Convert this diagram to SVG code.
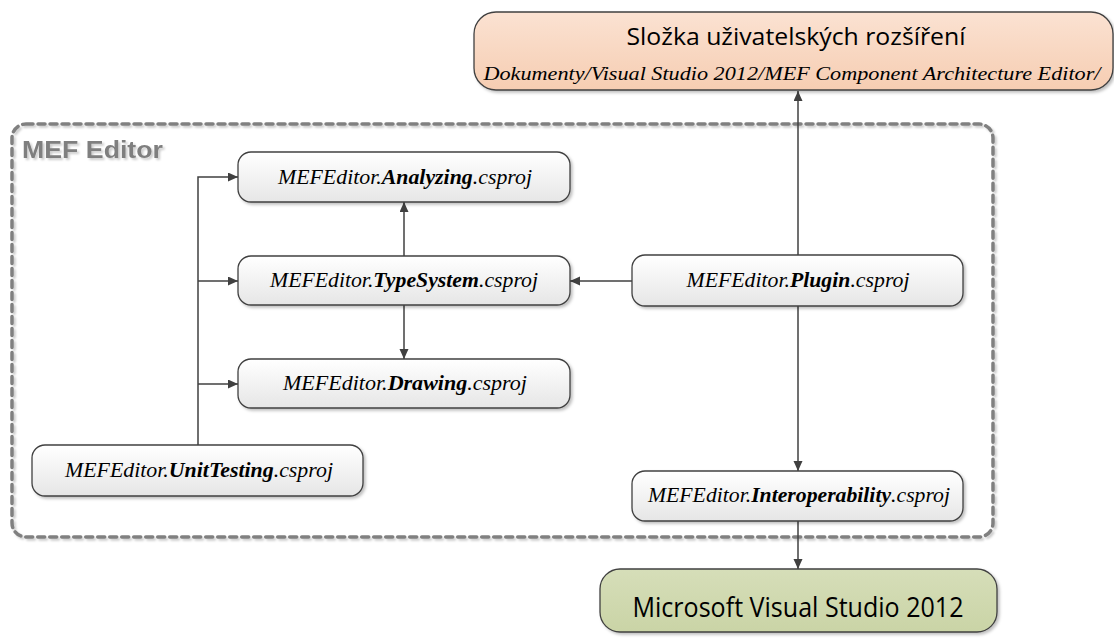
<svg xmlns="http://www.w3.org/2000/svg" width="1114" height="642" viewBox="0 0 1114 642">
<defs>
<linearGradient id="gNode" x1="0" y1="0" x2="0" y2="1">
<stop offset="0" stop-color="#ffffff"/>
<stop offset="1" stop-color="#e6e6e6"/>
</linearGradient>
<linearGradient id="gTop" x1="0" y1="0" x2="0" y2="1">
<stop offset="0" stop-color="#fbe2d2"/>
<stop offset="1" stop-color="#f6cdb2"/>
</linearGradient>
<linearGradient id="gVS" x1="0" y1="0" x2="0" y2="1">
<stop offset="0" stop-color="#d6deb9"/>
<stop offset="1" stop-color="#cad4a6"/>
</linearGradient>
<filter id="sh" x="-10%" y="-10%" width="120%" height="130%">
<feDropShadow dx="2" dy="2" stdDeviation="1.5" flood-color="#000" flood-opacity="0.25"/>
</filter>
<filter id="tsh" x="-10%" y="-20%" width="120%" height="150%">
<feDropShadow dx="2" dy="2" stdDeviation="1" flood-color="#000" flood-opacity="0.2"/>
</filter>
<marker id="arr" markerUnits="userSpaceOnUse" markerWidth="11" markerHeight="10" refX="10" refY="4.5" orient="auto">
<path d="M0,0 L10,4.5 L0,9 z" fill="#404040"/>
</marker>
</defs>
<style>
.node{fill:url(#gNode);stroke:#404040;stroke-width:1.3;filter:url(#sh)}
.nt{font-family:"Liberation Serif","Times New Roman",serif;font-style:italic;font-size:20px;fill:#000;text-anchor:middle}
.b{font-weight:bold}
.con{fill:none;stroke:#404040;stroke-width:1.5}
.big{font-family:"Open Sans","Liberation Sans",sans-serif;fill:#000;text-anchor:middle}
</style>

<g id="mef-editor-group">
<rect x="12" y="124" width="981" height="413" rx="14" fill="none" stroke="#808080" stroke-width="3.5" stroke-dasharray="7 5" stroke-linecap="round" filter="url(#tsh)"/>
<text x="22" y="158" font-family="'Liberation Sans',Arial,sans-serif" font-weight="bold" font-size="23" fill="#7f7f7f" textLength="141" lengthAdjust="spacingAndGlyphs" filter="url(#tsh)">MEF Editor</text>
</g>

<g id="connectors">
<line class="con" x1="798" y1="255" x2="798" y2="91" marker-end="url(#arr)"/>
<line class="con" x1="632" y1="281" x2="570" y2="281" marker-end="url(#arr)"/>
<line class="con" x1="798" y1="306" x2="798" y2="471" marker-end="url(#arr)"/>
<line class="con" x1="404" y1="256" x2="404" y2="202" marker-end="url(#arr)"/>
<line class="con" x1="404" y1="305" x2="404" y2="359" marker-end="url(#arr)"/>
<polyline class="con" points="198,445 198,177 238,177" marker-end="url(#arr)"/>
<line class="con" x1="198" y1="281" x2="238" y2="281" marker-end="url(#arr)"/>
<line class="con" x1="198" y1="384" x2="238" y2="384" marker-end="url(#arr)"/>
<line class="con" x1="798" y1="521" x2="798" y2="569" marker-end="url(#arr)"/>
</g>

<g id="user-extensions">
<rect x="474" y="12" width="639" height="78" rx="22" fill="url(#gTop)" stroke="#404040" stroke-width="1.3" filter="url(#sh)"/>
<text class="big" x="796" y="45" font-size="24" textLength="339" lengthAdjust="spacingAndGlyphs">Složka uživatelských rozšíření</text>
<text x="792" y="80" font-family="'Liberation Serif','Times New Roman',serif" font-style="italic" font-size="19" text-anchor="middle" textLength="617" lengthAdjust="spacingAndGlyphs">Dokumenty/Visual Studio 2012/MEF Component Architecture Editor/</text>
</g>

<g id="analyzing">
<rect class="node" x="238" y="152" width="332" height="50" rx="13"/>
<text class="nt" x="405" y="184" textLength="254" lengthAdjust="spacingAndGlyphs">MEFEditor.<tspan class="b">Analyzing</tspan>.csproj</text>
</g>

<g id="typesystem">
<rect class="node" x="238" y="256" width="332" height="49" rx="13"/>
<text class="nt" x="404" y="287" textLength="268" lengthAdjust="spacingAndGlyphs">MEFEditor.<tspan class="b">TypeSystem</tspan>.csproj</text>
</g>

<g id="drawing">
<rect class="node" x="238" y="359" width="332" height="49" rx="13"/>
<text class="nt" x="405" y="390" textLength="244" lengthAdjust="spacingAndGlyphs">MEFEditor.<tspan class="b">Drawing</tspan>.csproj</text>
</g>

<g id="plugin">
<rect class="node" x="632" y="255" width="331" height="51" rx="13"/>
<text class="nt" x="798" y="287" textLength="223" lengthAdjust="spacingAndGlyphs">MEFEditor.<tspan class="b">Plugin</tspan>.csproj</text>
</g>

<g id="unittesting">
<rect class="node" x="32" y="445" width="331" height="51" rx="13"/>
<text class="nt" x="199" y="477" textLength="268" lengthAdjust="spacingAndGlyphs">MEFEditor.<tspan class="b">UnitTesting</tspan>.csproj</text>
</g>

<g id="interoperability">
<rect class="node" x="632" y="471" width="331" height="50" rx="13"/>
<text class="nt" x="799" y="502" font-size="19" textLength="302" lengthAdjust="spacingAndGlyphs">MEFEditor.<tspan class="b">Interoperability</tspan>.csproj</text>
</g>

<g id="visual-studio">
<rect x="600" y="569" width="397" height="63" rx="20" fill="url(#gVS)" stroke="#404040" stroke-width="1.3" filter="url(#sh)"/>
<text class="big" x="798" y="617" font-size="27" textLength="331" lengthAdjust="spacingAndGlyphs">Microsoft Visual Studio 2012</text>
</g>
</svg>
